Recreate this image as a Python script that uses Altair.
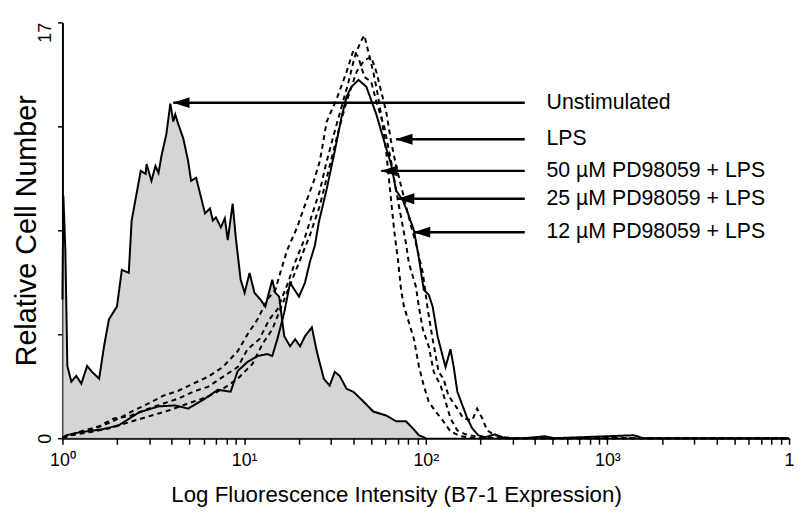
import altair as alt
import pandas as pd

# ---- data: log10 fluorescence (decades) and relative cell number ----
unstim_log = [0.000, 0.005, 0.016, 0.027, 0.049, 0.076, 0.104, 0.136, 0.163, 0.202,
              0.229, 0.256, 0.300, 0.327, 0.365, 0.381, 0.431, 0.458, 0.463, 0.490,
              0.512, 0.529, 0.545, 0.572, 0.594, 0.610, 0.621, 0.638, 0.665, 0.692,
              0.708, 0.736, 0.785, 0.812, 0.828, 0.845, 0.872, 0.894, 0.910, 0.937,
              0.954, 0.981, 1.003, 1.030, 1.057, 1.090, 1.117, 1.155, 1.172, 1.193,
              1.221, 1.253, 1.281, 1.308, 1.335, 1.373, 1.401, 1.439, 1.471, 1.499,
              1.526, 1.564, 1.602, 1.657, 1.711, 1.782, 1.837, 1.891, 1.929, 1.962, 2.000]
unstim_count = [5.67, 9.92, 7.69, 2.95, 2.31, 2.55, 2.23, 2.95, 2.71, 2.43,
                3.76, 4.86, 5.38, 6.88, 6.76, 8.90, 10.93, 10.81, 11.21, 10.52,
                11.13, 10.85, 11.54, 12.43, 13.68, 12.95, 13.24, 12.83, 12.26, 11.33,
                10.52, 10.65, 9.19, 9.39, 8.90, 9.03, 8.62, 8.99, 8.10, 9.59,
                8.22, 6.48, 5.95, 6.76, 5.95, 5.67, 5.38, 6.48, 5.95, 5.79,
                4.17, 3.76, 4.05, 3.76, 4.17, 4.53, 3.52, 2.43, 2.15, 2.71,
                2.55, 2.02, 1.90, 1.50, 1.09, 0.93, 0.69, 0.69, 0.40, 0.12, 0.00]

lps_log = [0.000, 0.022, 0.093, 0.218, 0.311, 0.420, 0.529, 0.621, 0.692, 0.785,
           0.856, 0.926, 0.965, 1.019, 1.074, 1.128, 1.155, 1.183, 1.221, 1.253,
           1.302, 1.335, 1.362, 1.390, 1.411, 1.455, 1.499, 1.537, 1.564, 1.591, 1.630,
           1.673, 1.728, 1.782, 1.809, 1.837, 1.875, 1.902, 1.935, 1.962,
           1.989, 2.016, 2.038, 2.065, 2.093, 2.109, 2.136, 2.153, 2.174, 2.202, 2.229,
           2.256, 2.289, 2.327, 2.381, 2.436, 2.545, 2.654, 2.708, 3.144, 3.199, 4.000]
lps_count = [0.00, 0.12, 0.24, 0.36, 0.53, 1.05, 1.30, 1.34, 1.21, 1.62,
             1.98, 1.90, 2.75, 3.12, 3.36, 3.44, 3.36, 4.05, 5.14, 6.35,
             5.79, 6.35, 7.20, 7.89, 8.82, 10.20, 11.74, 13.15, 13.96, 14.37,
             14.65, 14.37, 13.24, 11.86, 11.21, 10.12, 9.71, 9.19, 8.50, 7.37,
             6.07, 5.87, 5.38, 4.17, 3.36, 2.91, 3.64, 2.95, 1.90, 1.34,
             0.81, 0.40, 0.12, 0.04, 0.16, 0.00, 0.00, 0.08, 0.00, 0.12, 0.00, 0.00]

pd50_log = [0.000, 0.038, 0.120, 0.202, 0.283, 0.365, 0.474, 0.556, 0.638, 0.719,
            0.801, 0.883, 0.965, 1.019, 1.084, 1.139, 1.183, 1.237, 1.281, 1.330,
            1.373, 1.417, 1.455, 1.499, 1.537, 1.575, 1.608, 1.640, 1.662, 1.684,
            1.711, 1.738, 1.760, 1.782, 1.804, 1.826, 1.847, 1.864, 1.880, 1.907,
            1.935, 1.962, 1.989, 2.016, 2.054, 2.093, 2.136, 2.191, 2.272, 4.000]
pd50_count = [0.00, 0.12, 0.32, 0.49, 0.81, 0.89, 1.21, 1.42, 1.62, 1.90,
              2.10, 2.51, 2.91, 3.64, 4.05, 4.86, 5.26, 6.27, 7.20, 8.10,
              9.11, 10.12, 11.33, 12.55, 13.56, 14.57, 15.58, 16.19, 16.47, 15.79,
              14.98, 13.96, 12.95, 11.74, 10.12, 8.50, 7.29, 6.07, 5.38, 4.74,
              4.05, 2.95, 2.15, 1.50, 1.09, 0.73, 0.28, 0.08, 0.00, 0.00]

pd25_log = [0.000, 0.065, 0.147, 0.229, 0.311, 0.392, 0.474, 0.556, 0.638, 0.719,
            0.801, 0.883, 0.965, 1.019, 1.074, 1.128, 1.172, 1.199, 1.237, 1.292,
            1.330, 1.384, 1.417, 1.455, 1.510, 1.564, 1.602, 1.629, 1.662, 1.700,
            1.728, 1.771, 1.809, 1.847, 1.891, 1.907, 1.946, 1.962, 1.984, 2.016,
            2.044, 2.082, 2.109, 2.136, 2.174, 2.218, 2.272, 2.381, 4.000]
pd25_count = [0.04, 0.16, 0.32, 0.53, 0.81, 1.13, 1.42, 1.74, 1.94, 2.23,
              2.51, 2.91, 3.56, 4.25, 4.86, 5.67, 6.07, 6.76, 7.69, 8.62,
              9.43, 10.52, 11.33, 12.95, 13.88, 14.98, 15.87, 15.58, 14.77, 14.57,
              13.76, 12.75, 11.33, 9.71, 7.97, 7.16, 6.19, 5.38, 4.45, 3.76,
              2.71, 2.15, 1.50, 0.81, 0.32, 0.16, 0.08, 0.00, 0.00]

pd12_log = [0.000, 0.049, 0.147, 0.256, 0.365, 0.474, 0.583, 0.692, 0.801, 0.883,
            0.965, 1.046, 1.101, 1.155, 1.221, 1.275, 1.319, 1.362, 1.417, 1.471,
            1.526, 1.564, 1.619, 1.662, 1.700, 1.728, 1.755, 1.782, 1.809, 1.837,
            1.864, 1.891, 1.918, 1.946, 1.984, 2.011, 2.038, 2.071, 2.098, 2.125,
            2.174, 2.207, 2.256, 2.283, 2.311, 2.338, 2.381, 2.436, 2.490, 4.000]
pd12_count = [0.00, 0.12, 0.24, 0.40, 0.65, 0.89, 1.13, 1.42, 1.70, 2.02,
              2.43, 3.04, 3.85, 4.45, 5.67, 6.68, 7.49, 8.30, 9.51, 11.13,
              12.75, 13.76, 14.98, 15.46, 15.58, 14.98, 14.17, 13.36, 12.14, 11.13,
              10.32, 9.51, 8.70, 7.97, 6.76, 5.26, 4.05, 2.71, 2.43, 1.74,
              1.21, 0.81, 0.73, 1.21, 0.81, 0.32, 0.12, 0.04, 0.00, 0.00]

# annotation arrows
arrow_labels = ["Unstimulated", "LPS", "50 µM PD98059 + LPS",
                "25 µM PD98059 + LPS", "12 µM PD98059 + LPS"]
arrow_count = [13.72, 12.22, 10.93, 9.79, 8.42]
arrow_tip_log = [0.610, 1.837, 1.755, 1.847, 1.935]
arrow_tail_log = [2.545, 2.545, 2.545, 2.545, 2.545]

# axes
x_major = [1, 10, 100, 1000, 10000]
x_major_labels = ["10⁰", "10¹", "10²", "10³", "1"]
y_ticks = [0, 4.25, 8.5, 12.75, 17]
y_labelled = [0, 17]

series_order = ["LPS", "50 µM PD98059 + LPS", "25 µM PD98059 + LPS", "12 µM PD98059 + LPS"]

# ---- build tables ----
def frame(name, logs, counts):
    assert len(logs) == len(counts)
    return pd.DataFrame({"series": name,
                         "intensity": [10 ** v for v in logs],
                         "count": counts})

unstim = frame("Unstimulated", unstim_log, unstim_count)
curves = pd.concat([frame(series_order[0], lps_log, lps_count),
                    frame(series_order[1], pd50_log, pd50_count),
                    frame(series_order[2], pd25_log, pd25_count),
                    frame(series_order[3], pd12_log, pd12_count)], ignore_index=True)
arrows = pd.DataFrame({"label": arrow_labels, "count": arrow_count,
                       "tip": [10 ** v for v in arrow_tip_log],
                       "tail": [10 ** v for v in arrow_tail_log]})

minor_ticks = [m * 10 ** e for e in range(4) for m in range(1, 10)] + [10000]
label_expr = " : ".join(f"datum.value == {v} ? '{t}'" for v, t in zip(x_major, x_major_labels)) + " : ''"
y_label_expr = " : ".join(f"datum.value == {v} ? '{v}'" for v in y_labelled) + " : ''"

SANS = "'Liberation Sans', Arial, sans-serif"

x_scale = alt.Scale(type="log", domain=[1, 10000], nice=False)
y_scale = alt.Scale(domain=[0, 17], nice=False, zero=True)

x_axis = alt.Axis(values=minor_ticks, labelExpr=label_expr, grid=False,
                  domainColor="black", domainWidth=2, tickColor="black", tickWidth=1.5,
                  tickSize=6, labelFont=SANS, labelFontSize=18, labelColor="black",
                  labelPadding=8, labelOverlap=False, labelFlush=False,
                  title="Log Fluorescence Intensity (B7-1 Expression)",
                  titleFont=SANS, titleFontSize=22.5, titleFontWeight="normal",
                  titleColor="black", titleBaseline="alphabetic", titleY=64,
                  titleX=337, titleAlign="center")
y_axis = alt.Axis(values=y_ticks, labelExpr=y_label_expr, grid=False,
                  domainColor="black", domainWidth=2, tickColor="black", tickWidth=1.5,
                  tickSize=5, labelAngle=270,
                  labelAlign={"condition": {"test": "datum.value == 17", "value": "right"},
                              "value": "center"},
                  labelBaseline="alphabetic", labelPadding=7, labelFont=SANS,
                  labelFontSize=18, labelColor="black", labelOverlap=False,
                  title="Relative Cell Number", titleFont=SANS, titleFontSize=29,
                  titleFontWeight="normal", titleColor="black", titleAngle=270,
                  titleBaseline="alphabetic", titleX=-27)

X = lambda f: alt.X(f, type="quantitative", scale=x_scale, axis=x_axis)
Y = lambda f: alt.Y(f, type="quantitative", scale=y_scale, axis=y_axis)

area = alt.Chart(unstim).mark_area(
    fill="#c3c3c3", interpolate="linear",
    line=alt.OverlayMarkDef(color="black", strokeWidth=2)
).encode(x=X("intensity"), y=Y("count"))

lines = alt.Chart(curves).mark_line(color="black", strokeWidth=2).encode(
    x=X("intensity"), y=Y("count"), detail="series:N",
    strokeDash=alt.StrokeDash("series:N", legend=None,
                              scale=alt.Scale(domain=series_order,
                                              range=[[1, 0], [5, 4], [5, 4], [5, 4]])))

rules = alt.Chart(arrows).mark_rule(color="black", strokeWidth=2.5).encode(
    x=X("tip"), x2="tail", y=Y("count"))

heads = alt.Chart(arrows).mark_point(
    shape="M-1,0L1,-0.65L1,0.65Z", filled=True, color="black", opacity=1,
    size=289, xOffset=8).encode(x=X("tip"), y=Y("count"))

texts = alt.Chart(arrows).mark_text(
    align="left", baseline="middle", dx=22, font=SANS, fontSize=21.5, color="black"
).encode(x=X("tail"), y=Y("count"), text="label:N")

chart = alt.layer(area, lines, rules, heads, texts).properties(
    width=734, height=420,
    autosize=alt.AutoSizeParams(type="none"),
    padding={"left": 55, "top": 12, "right": 6, "bottom": 74},
).configure_view(stroke=None)

chart.save("out.html", embed_options={"renderer": "svg", "actions": False})
